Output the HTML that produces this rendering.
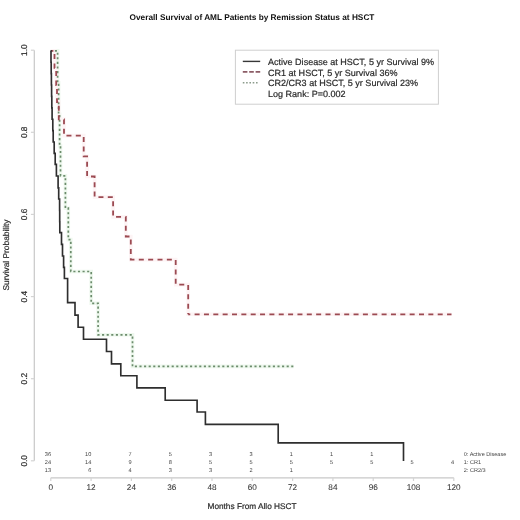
<!DOCTYPE html>
<html><head><meta charset="utf-8"><style>
html,body{margin:0;padding:0;background:#fff;width:520px;height:520px;overflow:hidden}
svg{display:block;filter:blur(0.35px)}
text{font-family:"Liberation Sans", sans-serif;text-rendering:geometricPrecision;stroke:#2a2a2a;stroke-width:0.2px;}
</style></head><body>
<svg width="520" height="520" viewBox="0 0 520 520">
<rect width="520" height="520" fill="#fff"/>
<text x="252" y="20" text-anchor="middle" font-size="8.27" font-weight="bold" fill="#111" style="stroke:none">Overall Survival of AML Patients by Remission Status at HSCT</text>
<g stroke="#c8c8c8" stroke-width="1.2" fill="none"><path d="M34.3,50.2 V460.8"/><path d="M30.9,460.8 H34.3" stroke="#d4d4d4"/><path d="M30.9,378.7 H34.3" stroke="#d4d4d4"/><path d="M30.9,296.6 H34.3" stroke="#d4d4d4"/><path d="M30.9,214.4 H34.3" stroke="#d4d4d4"/><path d="M30.9,132.3 H34.3" stroke="#d4d4d4"/><path d="M30.9,50.2 H34.3" stroke="#d4d4d4"/><path d="M50.8,477.8 H453.8"/><path d="M50.8,477.8 V481" stroke="#d4d4d4"/><path d="M91.1,477.8 V481" stroke="#d4d4d4"/><path d="M131.4,477.8 V481" stroke="#d4d4d4"/><path d="M171.7,477.8 V481" stroke="#d4d4d4"/><path d="M212.0,477.8 V481" stroke="#d4d4d4"/><path d="M252.3,477.8 V481" stroke="#d4d4d4"/><path d="M292.6,477.8 V481" stroke="#d4d4d4"/><path d="M332.9,477.8 V481" stroke="#d4d4d4"/><path d="M373.2,477.8 V481" stroke="#d4d4d4"/><path d="M413.5,477.8 V481" stroke="#d4d4d4"/><path d="M453.8,477.8 V481" stroke="#d4d4d4"/></g>
<text x="26.8" y="460.8" transform="rotate(-90 26.8 460.8)" text-anchor="middle" font-size="8.3" fill="#2a2a2a" style="stroke-width:0.2px">0.0</text><text x="26.8" y="378.7" transform="rotate(-90 26.8 378.7)" text-anchor="middle" font-size="8.3" fill="#2a2a2a" style="stroke-width:0.2px">0.2</text><text x="26.8" y="296.6" transform="rotate(-90 26.8 296.6)" text-anchor="middle" font-size="8.3" fill="#2a2a2a" style="stroke-width:0.2px">0.4</text><text x="26.8" y="214.4" transform="rotate(-90 26.8 214.4)" text-anchor="middle" font-size="8.3" fill="#2a2a2a" style="stroke-width:0.2px">0.6</text><text x="26.8" y="132.3" transform="rotate(-90 26.8 132.3)" text-anchor="middle" font-size="8.3" fill="#2a2a2a" style="stroke-width:0.2px">0.8</text><text x="26.8" y="50.2" transform="rotate(-90 26.8 50.2)" text-anchor="middle" font-size="8.3" fill="#2a2a2a" style="stroke-width:0.2px">1.0</text>
<text x="50.8" y="489.9" text-anchor="middle" font-size="8.2" fill="#333" style="stroke:#333;stroke-width:0.05px">0</text><text x="91.1" y="489.9" text-anchor="middle" font-size="8.2" fill="#333" style="stroke:#333;stroke-width:0.05px">12</text><text x="131.4" y="489.9" text-anchor="middle" font-size="8.2" fill="#333" style="stroke:#333;stroke-width:0.05px">24</text><text x="171.7" y="489.9" text-anchor="middle" font-size="8.2" fill="#333" style="stroke:#333;stroke-width:0.05px">36</text><text x="212.0" y="489.9" text-anchor="middle" font-size="8.2" fill="#333" style="stroke:#333;stroke-width:0.05px">48</text><text x="252.3" y="489.9" text-anchor="middle" font-size="8.2" fill="#333" style="stroke:#333;stroke-width:0.05px">60</text><text x="292.6" y="489.9" text-anchor="middle" font-size="8.2" fill="#333" style="stroke:#333;stroke-width:0.05px">72</text><text x="332.9" y="489.9" text-anchor="middle" font-size="8.2" fill="#333" style="stroke:#333;stroke-width:0.05px">84</text><text x="373.2" y="489.9" text-anchor="middle" font-size="8.2" fill="#333" style="stroke:#333;stroke-width:0.05px">96</text><text x="413.5" y="489.9" text-anchor="middle" font-size="8.2" fill="#333" style="stroke:#333;stroke-width:0.05px">108</text><text x="453.8" y="489.9" text-anchor="middle" font-size="8.2" fill="#333" style="stroke:#333;stroke-width:0.05px">120</text>
<text x="8.6" y="255" transform="rotate(-90 8.6 255)" text-anchor="middle" font-size="8.35" fill="#2a2a2a">Survival Probability</text>
<text x="252" y="509" text-anchor="middle" font-size="8.26" fill="#2a2a2a">Months From Allo HSCT</text>
<path d="M50.8,50.8 H57.6 V82.7 H58.6 V114.3 H59.6 V145.9 H60.5 V175.8 H65.4 V208.2 H68.3 V239.6 H70.8 V271.5 H91.2 V303.3 H98.1 V334.8 H132.5 V366.4 H293.5" fill="none" stroke="#eef8ee" stroke-width="3.6"/>
<path d="M50.8,50.8 H54.5 V67.9 H56.2 V85.0 H57.0 V102.1 H58.8 V119.4 H64.0 V135.6 H83.7 V156.3 H87.1 V176.5 H94.6 V197.1 H113.1 V216.9 H125.8 V236.5 H130.8 V259.6 H175.7 V284.6 H188.2 V314.3 H451.5" fill="none" stroke="#fdf4f5" stroke-width="3.6"/>
<path d="M50.8,50.8 H57.6 V82.7 H58.6 V114.3 H59.6 V145.9 H60.5 V175.8 H65.4 V208.2 H68.3 V239.6 H70.8 V271.5 H91.2 V303.3 H98.1 V334.8 H132.5 V366.4" fill="none" stroke="#6c8c6c" stroke-width="1.7" stroke-dasharray="2.1 2.5" stroke-dashoffset="0.55"/>
<path d="M132.5,366.4 H293.5" fill="none" stroke="#6c8c6c" stroke-width="1.7" stroke-dasharray="2.1 2.5" stroke-dashoffset="2.25"/>
<path d="M50.8,50.8 H54.5 V67.9 H56.2 V85.0 H57.0 V102.1 H58.8 V119.4 H64.0 V135.6 H83.7 V156.3 H87.1 V176.5 H94.6 V197.1 H113.1 V216.9 H125.8 V236.5 H130.8 V259.6 H175.7 V284.6 H188.2 V314.3" fill="none" stroke="#9c4a52" stroke-width="1.8" stroke-dasharray="5 4.35" stroke-dashoffset="2.4"/>
<path d="M188.2,314.3 H451.5" fill="none" stroke="#9c4a52" stroke-width="1.8" stroke-dasharray="5 4.35" stroke-dashoffset="2.95"/>
<path d="M50.8,50.8 H51.0 V62.2 H51.2 V73.6 H51.4 V85.0 H51.6 V96.4 H51.8 V107.8 H52.1 V119.2 H52.8 V130.6 H53.2 V142.0 H54.2 V153.4 H55.2 V164.3 H56.4 V176.0 H58.1 V187.8 H58.7 V199.0 H59.6 V210.3 H59.7 V221.7 H59.8 V232.6 H61.5 V244.3 H62.5 V256.0 H63.6 V267.3 H64.4 V278.5 H67.6 V302.6 H75.0 V315.1 H78.1 V327.2 H83.5 V339.2 H106.5 V351.5 H111.5 V363.8 H120.8 V375.7 H136.9 V387.8 H165.2 V400.2 H197.1 V412.0 H205.4 V424.4 H278.2 V442.8 H403.5 V461.0" fill="none" stroke="#2e2e2e" stroke-width="1.65"/>
<rect x="235.4" y="50.2" width="203" height="54" fill="#fff" stroke="#cfcfcf" stroke-width="1"/>
<path d="M242.8,61.4 H260.2" stroke="#383838" stroke-width="1.4"/>
<path d="M242.8,71.9 H260.2" stroke="#8c5c66" stroke-width="1.6" stroke-dasharray="4.6 1.8"/>
<path d="M242.8,82.7 H259.2" stroke="#8c9c8c" stroke-width="1.5" stroke-dasharray="1.6 1.7"/>
<text x="268" y="64.7" font-size="9.04" fill="#2a2a2a">Active Disease at HSCT, 5 yr Survival 9%</text><text x="268" y="75.5" font-size="9.04" fill="#2a2a2a">CR1 at HSCT, 5 yr Survival 36%</text><text x="268" y="86.3" font-size="9.04" fill="#2a2a2a">CR2/CR3 at HSCT, 5 yr Survival 23%</text><text x="268" y="97.1" font-size="9.04" fill="#2a2a2a">Log Rank: P=0.002</text>
<text x="51.0" y="455.7" text-anchor="end" font-size="5.6" fill="#444" style="stroke:none">36</text><text x="91.3" y="455.7" text-anchor="end" font-size="5.6" fill="#444" style="stroke:none">10</text><text x="131.6" y="455.7" text-anchor="end" font-size="5.6" fill="#444" style="stroke:none">7</text><text x="171.9" y="455.7" text-anchor="end" font-size="5.6" fill="#444" style="stroke:none">5</text><text x="212.2" y="455.7" text-anchor="end" font-size="5.6" fill="#444" style="stroke:none">3</text><text x="252.5" y="455.7" text-anchor="end" font-size="5.6" fill="#444" style="stroke:none">3</text><text x="292.8" y="455.7" text-anchor="end" font-size="5.6" fill="#444" style="stroke:none">1</text><text x="333.1" y="455.7" text-anchor="end" font-size="5.6" fill="#444" style="stroke:none">1</text><text x="373.4" y="455.7" text-anchor="end" font-size="5.6" fill="#444" style="stroke:none">1</text>
<text x="51.0" y="463.7" text-anchor="end" font-size="5.6" fill="#444" style="stroke:none">24</text><text x="91.3" y="463.7" text-anchor="end" font-size="5.6" fill="#444" style="stroke:none">14</text><text x="131.6" y="463.7" text-anchor="end" font-size="5.6" fill="#444" style="stroke:none">9</text><text x="171.9" y="463.7" text-anchor="end" font-size="5.6" fill="#444" style="stroke:none">8</text><text x="212.2" y="463.7" text-anchor="end" font-size="5.6" fill="#444" style="stroke:none">5</text><text x="252.5" y="463.7" text-anchor="end" font-size="5.6" fill="#444" style="stroke:none">5</text><text x="292.8" y="463.7" text-anchor="end" font-size="5.6" fill="#444" style="stroke:none">5</text><text x="333.1" y="463.7" text-anchor="end" font-size="5.6" fill="#444" style="stroke:none">5</text><text x="373.4" y="463.7" text-anchor="end" font-size="5.6" fill="#444" style="stroke:none">5</text><text x="413.7" y="463.7" text-anchor="end" font-size="5.6" fill="#444" style="stroke:none">5</text><text x="454.0" y="463.7" text-anchor="end" font-size="5.6" fill="#444" style="stroke:none">4</text>
<text x="51.0" y="471.8" text-anchor="end" font-size="5.6" fill="#444" style="stroke:none">13</text><text x="91.3" y="471.8" text-anchor="end" font-size="5.6" fill="#444" style="stroke:none">6</text><text x="131.6" y="471.8" text-anchor="end" font-size="5.6" fill="#444" style="stroke:none">4</text><text x="171.9" y="471.8" text-anchor="end" font-size="5.6" fill="#444" style="stroke:none">3</text><text x="212.2" y="471.8" text-anchor="end" font-size="5.6" fill="#444" style="stroke:none">3</text><text x="252.5" y="471.8" text-anchor="end" font-size="5.6" fill="#444" style="stroke:none">2</text><text x="292.8" y="471.8" text-anchor="end" font-size="5.6" fill="#444" style="stroke:none">1</text>
<text x="463.8" y="455.7" font-size="5.54" fill="#444" style="stroke:none">0: Active Disease</text><text x="463.8" y="463.7" font-size="5.54" fill="#444" style="stroke:none">1: CR1</text><text x="463.8" y="471.8" font-size="5.54" fill="#444" style="stroke:none">2: CR2/3</text>
</svg>
</body></html>
